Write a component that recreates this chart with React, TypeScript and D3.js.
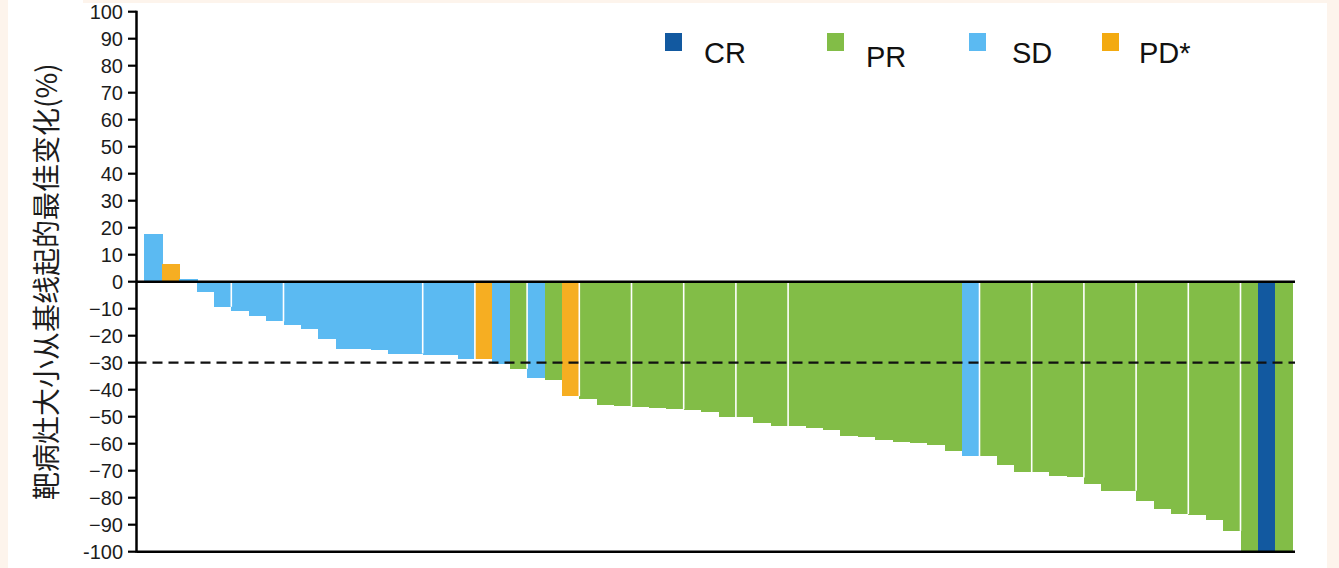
import React from "react";
import * as d3 from "d3";

// ---- data ----
const patientIds: number[] = d3.range(66);
const bestChange: number[] = [
  17.7, 6.6, 0.9, -3.9, -9.3, -10.8, -12.8, -14.7, -16.1, -17.6,
  -21.4, -24.9, -24.9, -25.3, -26.6, -26.6, -27.2, -27.2, -28.7, -28.7,
  -30.5, -32.2, -35.5, -36.5, -42.4, -43.4, -45.8, -46.2, -46.4, -46.8,
  -47.2, -47.7, -48.1, -50.2, -50.2, -52.3, -53.5, -53.5, -54.1, -55.1,
  -57.0, -57.5, -58.5, -59.5, -59.8, -60.3, -62.8, -64.6, -64.6, -67.9,
  -70.5, -70.5, -72.0, -72.5, -74.9, -77.4, -77.4, -81.1, -84.2, -86.1,
  -86.5, -88.1, -92.3, -100, -100, -100,
];
const response: string[] = [
  "SD", "PD", "SD", "SD", "SD", "SD", "SD", "SD", "SD", "SD",
  "SD", "SD", "SD", "SD", "SD", "SD", "SD", "SD", "SD", "PD",
  "SD", "PR", "SD", "PR", "PD", "PR", "PR", "PR", "PR", "PR",
  "PR", "PR", "PR", "PR", "PR", "PR", "PR", "PR", "PR", "PR",
  "PR", "PR", "PR", "PR", "PR", "PR", "PR", "SD", "PR", "PR",
  "PR", "PR", "PR", "PR", "PR", "PR", "PR", "PR", "PR", "PR",
  "PR", "PR", "PR", "PR", "CR", "PR",
];
// bar indices preceded by a thin white gap in the original
const gapBefore: number[] = [5, 8, 16, 19, 22, 25, 28, 31, 34, 37, 48, 51, 54, 57, 60, 63];
const legendKeys: string[] = ["CR", "PR", "SD", "PD*"];
const yTicks: number[] = d3.range(100, -101, -10);
const yTickLabels: string[] = yTicks.map((t) =>
  t === -100 ? "-100" : t < 0 ? "\u2212" + Math.abs(t) : String(t)
);
const threshold = -30;
const yTitle = "靶病灶大小从基线起的最佳变化(%)";

const colors: Record<string, string> = {
  CR: "#1259a0",
  PR: "#82bd47",
  SD: "#5bbaf2",
  PD: "#f6ae22",
  "PD*": "#f3aa10",
};

export default function App() {
  const W = 1339;
  const H = 568;
  const axisX = 136.5;
  const right = 1295;
  const x = d3.scaleBand<number>().domain(patientIds).range([144.3, 1292.7]).padding(0);
  const y = d3.scaleLinear().domain([-100, 100]).range([551.7, 11.7]);
  const y0 = y(0);
  const font = "'Liberation Sans', Arial, Helvetica, sans-serif";

  const legendSquareX = [665, 827, 969, 1102];
  const legendTextX = [704, 866, 1012, 1139];
  const legendTextDy = [0, 4, 0, 0];

  return (
    <svg
      width={W}
      height={H}
      style={{ position: "absolute", left: 0, top: 0, display: "block" }}
    >
      <rect x={0} y={0} width={W} height={H} fill="#fdf4ec" />
      <rect x={8} y={3} width={1319} height={H - 3} fill="#ffffff" />
      <rect x={8} y={0} width={75} height={4} fill="#ffffff" />

      {/* bars */}
      <g shapeRendering="crispEdges">
        {patientIds.map((id, i) => {
          const v = bestChange[i];
          const top = v >= 0 ? y(v) : y0;
          const h = Math.abs(y(v) - y0);
          const isLast = i === patientIds.length - 1;
          return (
            <rect
              key={id}
              x={x(id)!}
              y={top}
              width={x.bandwidth() + (isLast ? 0 : 1)}
              height={h}
              fill={colors[response[i]]}
            />
          );
        })}
      </g>

      {/* white gaps */}
      {gapBefore.map((i) => {
        const depth = Math.max(bestChange[i - 1], bestChange[i]);
        const gx = x(patientIds[i])!;
        return (
          <line
            key={"g" + i}
            x1={gx}
            x2={gx}
            y1={y0}
            y2={y(depth)}
            stroke="#ffffff"
            strokeWidth={1.6}
          />
        );
      })}

      {/* threshold dashed line */}
      <line
        x1={axisX}
        x2={right}
        y1={y(threshold)}
        y2={y(threshold)}
        stroke="#111"
        strokeWidth={2.2}
        strokeDasharray="10,6"
      />

      {/* zero and bottom lines */}
      <line x1={axisX} x2={right} y1={y0} y2={y0} stroke="#000" strokeWidth={2.4} />
      <line x1={axisX} x2={right} y1={y(-100)} y2={y(-100)} stroke="#000" strokeWidth={2.4} />

      {/* y axis */}
      <line x1={axisX} x2={axisX} y1={y(100) - 1} y2={y(-100) + 1} stroke="#000" strokeWidth={2.5} />
      {yTicks.map((t, i) => (
        <g key={"t" + t}>
          <line x1={128} x2={axisX} y1={y(t)} y2={y(t)} stroke="#000" strokeWidth={2.2} />
          <text
            x={123}
            y={y(t)}
            dy="0.36em"
            textAnchor="end"
            fontFamily={font}
            fontSize={20}
            fill="#1c1c1c"
          >
            {yTickLabels[i]}
          </text>
        </g>
      ))}

      {/* y title */}
      <text
        transform={`translate(47, ${(y(100) + y(-100)) / 2}) rotate(-90)`}
        textAnchor="middle"
        dy="0.36em"
        fontFamily="'Noto Sans CJK SC', 'Noto Sans', sans-serif"
        fontSize={28}
        fill="#1c1c1c"
      >
        {yTitle}
      </text>

      {/* legend */}
      {legendKeys.map((k, i) => (
        <g key={k}>
          <rect x={legendSquareX[i]} y={33} width={17} height={18} fill={colors[k]} />
          <text
            x={legendTextX[i]}
            y={63 + legendTextDy[i]}
            fontFamily={font}
            fontSize={29}
            fill="#111"
          >
            {k}
          </text>
        </g>
      ))}
    </svg>
  );
}
